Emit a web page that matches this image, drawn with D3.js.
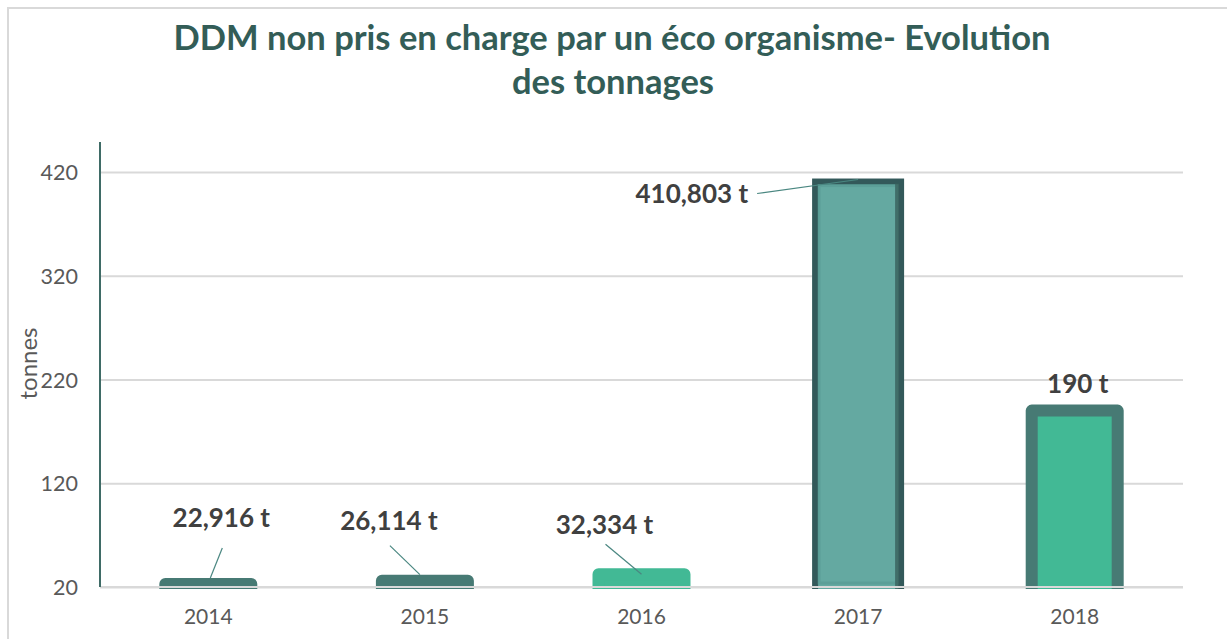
<!DOCTYPE html>
<html>
<head>
<meta charset="utf-8">
<script src="https://cdn.jsdelivr.net/npm/d3@7"></script>
<style>
  body { margin: 0; background: #fff; }
  svg { display: block; font-family: Lato, "Open Sans", sans-serif; }
</style>
</head>
<body>
<div id="chart"></div>
<script>
const years = ['2014', '2015', '2016', '2017', '2018'];
const tonnages = [22.916, 26.114, 32.334, 410.803, 190];
const valueLabels = ['22,916 t', '26,114 t', '32,334 t', '410,803 t', '190 t'];
const yTicks = [20, 120, 220, 320, 420];

const width = 1227, height = 639;
const margin = {left: 100, right: 44, top: 142, bottom: 52};

// label placement relative to bar centre / bar top (layout only)
const labelLayout = [
  {dx: 13, dy: -51, anchor: 'middle', leader: [[14, -30], [2, 0]]},
  {dx: -36, dy: -45, anchor: 'middle', leader: [[-35, -29], [-5, 0]]},
  {dx: -37, dy: -34, anchor: 'middle', leader: [[-36, -24], [0, 6]]},
  {dx: -110, dy: 24, anchor: 'end', leader: [[-101, 15], [0, 1]]},
  {dx: 3, dy: -12, anchor: 'middle', leader: null}
];

const svg = d3.select('#chart').append('svg')
  .attr('width', width)
  .attr('height', height);

// chart frame
svg.append('rect')
  .attr('x', 8).attr('y', 8)
  .attr('width', width + 10).attr('height', height + 10)
  .attr('fill', 'none')
  .attr('stroke', '#d9d9d9')
  .attr('stroke-width', 2);

const title = svg.append('text')
  .attr('text-anchor', 'middle')
  .attr('fill', '#335d57')
  .attr('font-weight', 'bold')
  .attr('font-size', 34.5);
title.append('tspan').attr('x', 612).attr('y', 50)
  .text('DDM non pris en charge par un éco organisme- Evolution');
title.append('tspan').attr('x', 613).attr('y', 94)
  .text('des tonnages');

const x = d3.scaleBand()
  .domain(years)
  .range([margin.left, width - margin.right])
  .paddingInner(0.603)
  .paddingOuter(0.3015);

const y = d3.scaleLinear()
  .domain([20, 448.9])
  .range([height - margin.bottom, margin.top]);

// gridlines
const grid = svg.append('g')
  .attr('transform', `translate(${margin.left},0)`)
  .call(d3.axisLeft(y).tickValues(yTicks)
    .tickSize(-(width - margin.right - margin.left)).tickFormat(''));
grid.select('.domain').remove();
grid.selectAll('.tick line').attr('stroke', '#d9d9d9').attr('stroke-width', 2);

// tick labels
const yAxis = svg.append('g')
  .attr('transform', `translate(${margin.left - 22},0)`)
  .call(d3.axisLeft(y).tickValues(yTicks).tickSize(0).tickPadding(0));
yAxis.select('.domain').remove();
yAxis.selectAll('text')
  .attr('font-family', 'Lato, sans-serif')
  .attr('font-size', 21.5)
  .attr('fill', '#595959')
  .attr('dy', '0.36em');

svg.append('text')
  .attr('transform', `translate(37,363.5) rotate(-90)`)
  .attr('text-anchor', 'middle')
  .attr('font-size', 24)
  .attr('fill', '#595959')
  .text('tonnes');

const xAxis = svg.append('g')
  .attr('transform', `translate(0,${y(20)})`)
  .call(d3.axisBottom(x).tickSize(0).tickPadding(22));
xAxis.select('.domain').remove();
xAxis.selectAll('text')
  .attr('font-family', 'Lato, sans-serif')
  .attr('font-size', 21)
  .attr('fill', '#595959');

// bars
const defs = svg.append('defs');
defs.append('clipPath').attr('id', 'plot-clip')
  .append('rect')
  .attr('x', 0).attr('y', 0)
  .attr('width', width).attr('height', y(20) + 2);

const fills = ['#477a74', '#477a74', '#42b995', '#64a9a1', '#42b995'];
const strokes = ['#477a74', '#477a74', '#42b995', '#33595a', '#477a74'];
const strokeW = [12, 12, 12, 6, 12];

const bars = svg.append('g').attr('clip-path', 'url(#plot-clip)');
bars.selectAll('rect.bar')
  .data(tonnages)
  .join('rect')
  .attr('class', 'bar')
  .attr('x', (d, i) => x(years[i]))
  .attr('y', d => y(d))
  .attr('width', x.bandwidth())
  .attr('height', d => y(20) - y(d) + 10)
  .attr('fill', (d, i) => fills[i])
  .attr('stroke', (d, i) => strokes[i])
  .attr('stroke-width', (d, i) => strokeW[i])
  .attr('stroke-linejoin', (d, i) => i === 3 ? 'miter' : 'round');

// bevel shading on the 2017 bar
const b17 = 3;
bars.append('rect')
  .attr('x', x(years[b17]) + 4)
  .attr('y', y(tonnages[b17]) + 4)
  .attr('width', x.bandwidth() - 8)
  .attr('height', y(20) - y(tonnages[b17]) - 8)
  .attr('fill', 'none')
  .attr('stroke', '#579a92')
  .attr('stroke-width', 3)
  .attr('opacity', 0.6);
bars.append('rect')
  .attr('x', x(years[b17]) + x.bandwidth() - 6)
  .attr('y', y(tonnages[b17]) + 2)
  .attr('width', 4)
  .attr('height', y(20) - y(tonnages[b17]))
  .attr('fill', '#3a615e')
  .attr('opacity', 0.8);

// baseline over the bars
svg.append('line')
  .attr('x1', margin.left).attr('x2', width - margin.right)
  .attr('y1', y(20)).attr('y2', y(20))
  .attr('stroke', '#d9d9d9').attr('stroke-width', 2);

// y axis line
svg.append('line')
  .attr('x1', margin.left).attr('x2', margin.left)
  .attr('y1', y(448.9)).attr('y2', y(20))
  .attr('stroke', '#3f6b66').attr('stroke-width', 2);

// data labels with leader lines
const labels = svg.append('g');
tonnages.forEach((v, i) => {
  const cx = x(years[i]) + x.bandwidth() / 2;
  const top = y(v) - strokeW[i] / 2;
  const L = labelLayout[i];
  if (L.leader) {
    labels.append('line')
      .attr('x1', cx + L.leader[0][0]).attr('y1', top + L.leader[0][1])
      .attr('x2', cx + L.leader[1][0]).attr('y2', top + L.leader[1][1])
      .attr('stroke', '#4a8781').attr('stroke-width', 1.2);
  }
  labels.append('text')
    .attr('x', cx + L.dx)
    .attr('y', top + L.dy)
    .attr('text-anchor', L.anchor)
    .attr('font-weight', 'bold')
    .attr('font-size', 26)
    .attr('fill', '#404040')
    .text(valueLabels[i]);
});
</script>
</body>
</html>
